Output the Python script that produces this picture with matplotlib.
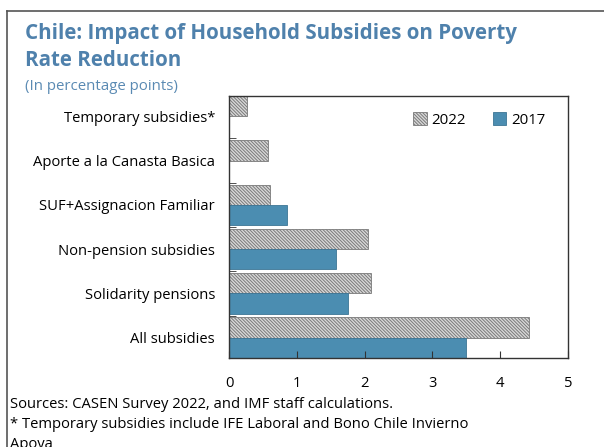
import numpy as np
import matplotlib
matplotlib.use("Agg")
import matplotlib.pyplot as plt

# data (bottom to top)
categories = ["All subsidies", "Solidarity pensions", "Non-pension subsidies",
              "SUF+Assignacion Familiar", "Aporte a la Canasta Basica",
              "Temporary subsidies*"]
vals_2022 = [4.42, 2.10, 2.05, 0.61, 0.57, 0.26]
vals_2017 = [3.49, 1.76, 1.58, 0.85, 0.0, 0.0]
xticks = [0, 1, 2, 3, 4, 5]

plt.rcParams['font.family'] = ['Open Sans', 'DejaVu Sans']
plt.rcParams['hatch.linewidth'] = 0.7

fig = plt.figure(figsize=(6.04, 4.47), dpi=100)

# frame around the chart
fig.add_artist(plt.Line2D([7 / 604, 1.0], [1 - 11 / 447, 1 - 11 / 447],
                          transform=fig.transFigure, color='#555555', lw=1.2))
fig.add_artist(plt.Line2D([7 / 604, 7 / 604], [0.0, 1 - 11 / 447],
                          transform=fig.transFigure, color='#555555', lw=1.2))

ax = fig.add_axes([229 / 604, 1 - 358 / 447, 339 / 604, 262 / 447])

y = np.arange(len(categories))
h = 0.46
ax.barh(y + h / 2, vals_2022, height=h, color='#d8d8d8', edgecolor='#7a7a7a',
        hatch='\\' * 10, linewidth=0.6, label='2022')
b17 = [v if v > 0 else np.nan for v in vals_2017]
ax.barh(y - h / 2, b17, height=h, color='#4b8db1', edgecolor='#3d7595',
        linewidth=0.6, label='2017')

ax.set_xlim(0, 5)
ax.set_ylim(-h, len(categories) - 1 + h)
ax.set_xticks(xticks)
ax.set_xticklabels([str(t) for t in xticks])
ax.set_yticks(y)
ax.set_yticklabels(categories)
ax.set_yticks(y[:-1] + 0.5, minor=True)
ax.tick_params(axis='x', direction='in', length=5, pad=13, labelsize=10.6,
               color='#333333')
ax.tick_params(axis='y', which='major', length=0, pad=10, labelsize=10.6)
ax.tick_params(axis='y', which='minor', direction='in', length=5,
               color='#333333')
for s in ax.spines.values():
    s.set_color('#333333')
    s.set_linewidth(1.0)

ax.legend(loc='upper right', ncol=2, frameon=False, fontsize=10.8,
          handlelength=0.9, handleheight=0.9, handletextpad=0.3,
          columnspacing=1.8, borderaxespad=0, bbox_to_anchor=(0.95, 0.96))

fig.text(25 / 604, 1 - 33 / 447, "Chile: Impact of Household Subsidies on Poverty",
         fontsize=14.8, fontweight='bold', color='#4f81ac', va='center')
fig.text(25 / 604, 1 - 61 / 447, "Rate Reduction",
         fontsize=14.8, fontweight='bold', color='#4f81ac', va='center')
fig.text(25 / 604, 1 - 86 / 447, "(In percentage points)",
         fontsize=10.8, color='#5a8ab3', va='center')

fig.text(10 / 604, 1 - 404 / 447, "Sources: CASEN Survey 2022, and IMF staff calculations.",
         fontsize=10.6, va='center')
fig.text(10 / 604, 1 - 424 / 447, "* Temporary subsidies include IFE Laboral and Bono Chile Invierno",
         fontsize=10.6, va='center')
fig.text(10 / 604, 1 - 444 / 447, "Apoya",
         fontsize=10.6, va='center')

fig.savefig("out.png", dpi=100)
